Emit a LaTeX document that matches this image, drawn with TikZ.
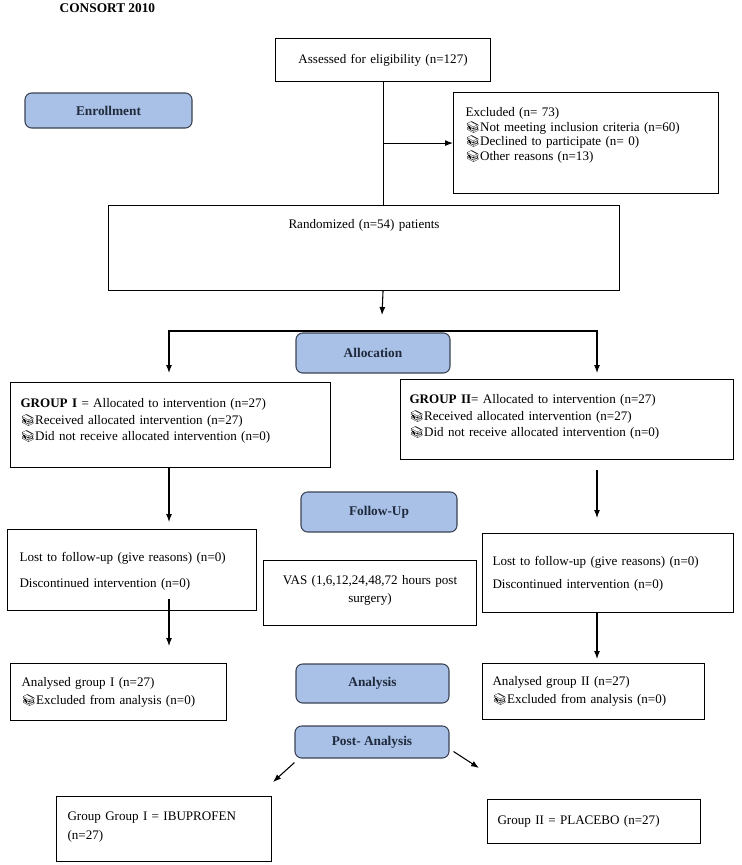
\documentclass[tikz,border=0pt]{standalone}
\usepackage{fontspec}
\setmainfont{Liberation Serif}
\newfontfamily\emojifont{Noto Emoji}
\usetikzlibrary{arrows,arrows.meta,positioning,shapes,calc}

\definecolor{phasefill}{HTML}{A9C1E6}
\definecolor{phaseline}{HTML}{3A4254}
\definecolor{phasetext}{HTML}{1F2A3D}

% small book-stack bullet used in the lists
\newcommand{\bk}{{\emojifont\fontsize{8.6}{8}\selectfont 📚}}

\begin{document}
\begin{tikzpicture}[x=0.75pt,y=-0.75pt,
    font=\fontsize{9.8}{12.5}\selectfont,
    box/.style={draw, line width=0.8pt, anchor=north west, align=left, inner ysep=0pt},
    phase/.style={draw=phaseline, fill=phasefill, rounded corners=5pt, line width=0.8pt,
        text=phasetext, font=\fontsize{10}{12.5}\selectfont\bfseries},
    arr/.style={-{Latex[length=6pt,width=4.5pt]}, line width=0.8pt}]
    \useasboundingbox (0,0) rectangle (742,865);

    \node[anchor=west, font=\fontsize{10}{12.5}\selectfont\bfseries] (title) at (55,8) {CONSORT 2010};

    % Enrollment
    \node[box, align=center, inner xsep=0pt, text width=161.25pt, minimum height=32.25pt] (assess) at (275,38)
        {Assessed for eligibility (n=127)};
    \node[phase, minimum width=125.25pt, minimum height=26.25pt] (enrol) at (108.5,110.5) {Enrollment};
    \node[box, inner xsep=9pt, text width=180.75pt, text height=17.9pt, text depth=57.9pt] (excl) at (453,92)
        {Excluded (n= 73)\\[-1.5pt]
         \bk Not meeting inclusion criteria (n=60)\\[-1.5pt]
         \bk Declined to participate (n= 0)\\[-1.5pt]
         \bk Other reasons (n=13)};
    \node[box, align=center, inner xsep=0pt, text width=383.25pt, text height=17.1pt, text depth=46.65pt] (rand) at (108,205)
        {Randomized (n=54) patients};

    \draw[line width=0.8pt] (assess.south) -- (assess.south |- rand.north);
    \draw[arr] (assess.south |- excl.west) -- (excl.west);

    % Allocation
    \coordinate (split) at (382,315);
    \coordinate (splitL) at (169,331);
    \coordinate (splitR) at (597,331);
    \draw[arr] (rand.south -| assess.south) -- (split);

    \node[box, inner xsep=7.5pt, text width=225pt, text height=18.6pt, text depth=45.15pt] (grpI) at (10,382)
        {\textbf{GROUP I} = Allocated to intervention (n=27)\\
         \bk Received allocated intervention (n=27)\\
         \bk Did not receive allocated intervention (n=0)};
    \node[box, inner xsep=6.75pt, text width=236.25pt, text height=17.85pt, text depth=42.15pt] (grpII) at (400,379)
        {\textbf{GROUP II}= Allocated to intervention (n=27)\\
         \bk Received allocated intervention (n=27)\\
         \bk Did not receive allocated intervention (n=0)};

    \draw[{Latex[length=6pt,width=4.5pt]}-{Latex[length=6pt,width=4.5pt]}, line width=0.8pt,
        shorten <=6.75pt, shorten >=4.5pt]
        (splitL |- grpI.north) -- (splitL) -- (splitR) -- (splitR |- grpII.north);
    \node[phase, minimum width=115.5pt, minimum height=30pt] (alloc) at (373,353) {Allocation};

    % Follow-up
    \node[phase, minimum width=117pt, minimum height=30pt] (follow) at (379,512) {Follow-Up};
    \node[box, inner xsep=9pt, text width=168.75pt, text height=23.85pt, text depth=36.9pt] (lostL) at (7,529)
        {Lost to follow-up (give reasons) (n=0)\\[7pt]
         Discontinued intervention (n=0)};
    \node[box, align=center, inner xsep=0pt, text width=159.75pt, text height=17.85pt, text depth=30.9pt] (vas) at (263,560)
        {VAS (1,6,12,24,48,72 hours post\\[1pt] surgery)};
    \node[box, inner xsep=7.5pt, text width=173.25pt, text height=23.85pt, text depth=35.4pt] (lostR) at (482,533)
        {Lost to follow-up (give reasons) (n=0)\\[4.75pt]
         Discontinued intervention (n=0)};

    \draw[arr, shorten >=5.25pt] (grpI.south -| splitL) -- (lostL.north -| splitL);
    \draw[arr, shorten <=7.5pt, shorten >=11.25pt] (grpII.south -| splitR) -- (lostR.north -| splitR);

    % Analysis
    \node[box, inner xsep=8.25pt, text width=145.5pt, minimum height=42.75pt] (anaI) at (10,663)
        {Analysed group I (n=27)\\[1pt]
         \bk Excluded from analysis (n=0)};
    \node[phase, minimum width=114.75pt, minimum height=29.25pt] (analysis) at (372.5,683.5) {Analysis};
    \node[box, inner xsep=7.5pt, text width=151.5pt, minimum height=42pt] (anaII) at (482,663)
        {Analysed group II (n=27)\\[1pt]
         \bk Excluded from analysis (n=0)};

    \draw[arr, shorten <=-9pt, shorten >=12.75pt] (lostL.south -| splitL) -- (anaI.north -| splitL);
    \draw[arr, shorten >=3pt] (lostR.south -| splitR) -- (anaII.north -| splitR);

    % Post-analysis
    \node[phase, minimum width=115.5pt, minimum height=24pt] (post) at (372,742) {Post- Analysis};
    \node[box, inner xsep=8.25pt, text width=144.75pt, text height=17.85pt, text depth=30.9pt] (ggI) at (56,796)
        {Group Group I = IBUPROFEN\\[1.5pt] (n=27)};
    \node[box, inner xsep=7.5pt, text width=144.75pt, minimum height=33pt] (placebo) at (487,799)
        {Group II = PLACEBO (n=27)};

    \coordinate (tipI) at (273,782);
    \coordinate (tipII) at (479,768);
    \draw[arr] ([yshift=-3pt]post.south west) -- (tipI);
    \draw[arr] ([xshift=3pt,yshift=5.25pt]post.south east) -- (tipII);
\end{tikzpicture}
\end{document}
